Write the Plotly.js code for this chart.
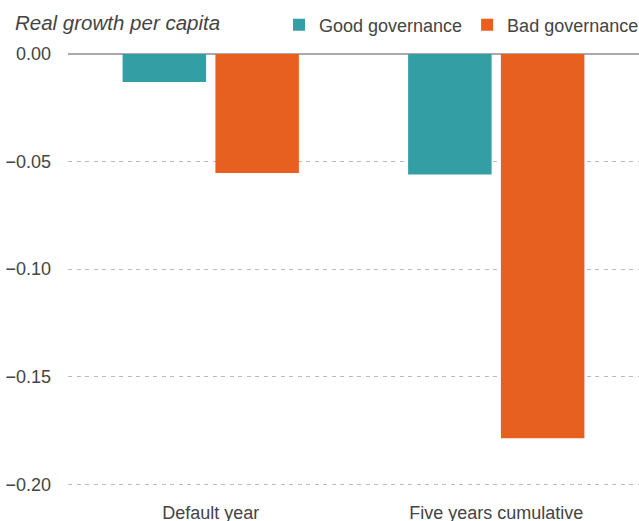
<!DOCTYPE html>
<html>
<head>
<meta charset="utf-8">
<script src="https://cdn.plot.ly/plotly-3.0.1.min.js"></script>
<style>html,body{margin:0;padding:0;background:#fff;}#chart{width:639px;height:521px;}</style>
</head>
<body>
<div id="chart"></div>
<script>
const categories = ["Default year", "Five years cumulative"];
const goodGovernance = [-0.013, -0.056];
const badGovernance = [-0.0553, -0.1786];
const seriesNames = ["Good governance", "Bad governance"];
const tickValues = [0, -0.05, -0.10, -0.15, -0.20];

const FONT = "Liberation Sans, Arial, sans-serif";
const traces = [
  {type: "bar", name: seriesNames[0], x: categories, y: goodGovernance,
   marker: {color: "#339fa5"}, hoverinfo: "skip"},
  {type: "bar", name: seriesNames[1], x: categories, y: badGovernance,
   marker: {color: "#e86020"}, hoverinfo: "skip"}
];
const layout = {
  width: 639, height: 521,
  margin: {l: 68, r: 0, t: 54, b: 26, pad: 0, autoexpand: false},
  paper_bgcolor: "#fff", plot_bgcolor: "#fff",
  font: {family: FONT, color: "#444", size: 18},
  barmode: "group", bargap: 0.35, bargroupgap: 0.1,
  title: {text: "<i>Real growth per capita</i>", font: {family: FONT, size: 20.5, color: "#444"},
          xref: "container", x: 15/639, xanchor: "left",
          yref: "container", y: 1 - 23/521, yanchor: "middle"},
  showlegend: true,
  legend: {orientation: "h", x: 1 + 5/571, xanchor: "right", y: 1 + (54-25)/441, yanchor: "middle",
           font: {family: FONT, size: 18, color: "#444"}, itemwidth: 30,
           traceorder: "normal", bgcolor: "rgba(0,0,0,0)"},
  xaxis: {type: "category", showgrid: false, showline: false, zeroline: false, ticks: "",
          automargin: false,
          tickfont: {family: FONT, size: 18, color: "#444"}, ticklabelstandoff: 5},
  yaxis: {range: [-0.205, 0], tickvals: tickValues, tickformat: ".2f", automargin: false,
          showgrid: true, gridcolor: "#bbb", griddash: "4px,4.5px", gridwidth: 1,
          zeroline: true, zerolinecolor: "#aaa", zerolinewidth: 1.5,
          showline: false, ticks: "", ticklabelstandoff: 16,
          tickfont: {family: FONT, size: 18, color: "#444"}}
};
Plotly.newPlot("chart", traces, layout, {staticPlot: true, displayModeBar: false});
</script>
</body>
</html>
